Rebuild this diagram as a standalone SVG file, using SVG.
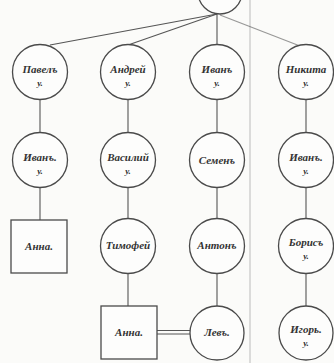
<svg xmlns="http://www.w3.org/2000/svg" width="334" height="363" viewBox="0 0 334 363">
<style>
.n{fill:#fdfdfc;stroke:#4a4a4a;stroke-width:1.3}
.c{stroke:#555;stroke-width:1.1;fill:none}
.d{stroke:#bbb;stroke-width:1;fill:none}
text{font-family:"Liberation Serif","DejaVu Serif",serif;font-style:italic;font-weight:bold;font-size:11px;fill:#333;text-anchor:middle}
.s{font-size:9px}
</style>
<rect width="334" height="363" fill="#fbfbf9"/>
<line class="d" x1="250" y1="0" x2="250" y2="363"/>
<g id="connectors">
<line class="c" x1="217" y1="14" x2="50" y2="45"/>
<line class="c" x1="217" y1="14" x2="128" y2="45"/>
<line class="c" x1="217" y1="14" x2="217" y2="45"/>
<line class="c" x1="220" y1="15" x2="300" y2="46" stroke-opacity="0.6"/>
<line class="c" x1="40" y1="100" x2="40" y2="133"/>
<line class="c" x1="40" y1="188" x2="40" y2="220"/>
<line class="c" x1="128" y1="100" x2="128" y2="133"/>
<line class="c" x1="128" y1="188" x2="128" y2="219"/>
<line class="c" x1="128" y1="273" x2="128" y2="306"/>
<line class="c" x1="217" y1="100" x2="217" y2="133"/>
<line class="c" x1="217" y1="188" x2="217" y2="219"/>
<line class="c" x1="217" y1="273" x2="217" y2="306"/>
<line class="c" x1="306" y1="100" x2="306" y2="133"/>
<line class="c" x1="306" y1="188" x2="306" y2="219"/>
<line class="c" x1="306" y1="273" x2="306" y2="306"/>
<line class="c" x1="157" y1="330.5" x2="190" y2="330.5"/>
<line class="c" x1="157" y1="334" x2="190" y2="334"/>
</g>
<g id="top"><circle class="n" cx="220" cy="-8" r="22"/></g>
<g id="pavel"><circle class="n" cx="40" cy="72" r="27.5"/><text x="40" y="73">Павелъ</text><text class="s" x="40" y="86">у.</text></g>
<g id="andrey"><circle class="n" cx="128" cy="72" r="27.5"/><text x="128" y="73">Андрей</text><text class="s" x="128" y="86">у.</text></g>
<g id="ivan1"><circle class="n" cx="217" cy="72" r="27.5"/><text x="217" y="73">Иванъ</text><text class="s" x="217" y="86">у.</text></g>
<g id="nikita"><circle class="n" cx="306" cy="72" r="27.5"/><text x="306" y="73">Никита</text><text class="s" x="306" y="86">у.</text></g>
<g id="ivan2"><circle class="n" cx="40" cy="160" r="27.5"/><text x="40" y="161">Иванъ.</text><text class="s" x="40" y="174">у.</text></g>
<g id="vasiliy"><circle class="n" cx="128" cy="160" r="27.5"/><text x="128" y="161">Василий</text><text class="s" x="128" y="174">у.</text></g>
<g id="semen"><circle class="n" cx="217" cy="160" r="27.5"/><text x="217" y="164">Семенъ</text></g>
<g id="ivan3"><circle class="n" cx="306" cy="160" r="27.5"/><text x="306" y="161">Иванъ.</text><text class="s" x="306" y="174">у.</text></g>
<g id="anna1"><rect class="n" x="11" y="220" width="56" height="53"/><text x="39" y="250">Анна.</text></g>
<g id="timofey"><circle class="n" cx="128" cy="246" r="27.5"/><text x="128" y="249">Тимофей</text></g>
<g id="anton"><circle class="n" cx="217" cy="246" r="27.5"/><text x="217" y="249">Антонъ</text></g>
<g id="boris"><circle class="n" cx="306" cy="246" r="27.5"/><text x="306" y="246">Борисъ</text><text class="s" x="306" y="259">у.</text></g>
<g id="anna2"><rect class="n" x="101" y="306" width="56" height="53"/><text x="129" y="336">Анна.</text></g>
<g id="lev"><circle class="n" cx="217" cy="333" r="27"/><text x="217" y="336">Левъ.</text></g>
<g id="igor"><circle class="n" cx="306" cy="333" r="27"/><text x="306" y="333">Игорь.</text><text class="s" x="306" y="346">у.</text></g>
</svg>
